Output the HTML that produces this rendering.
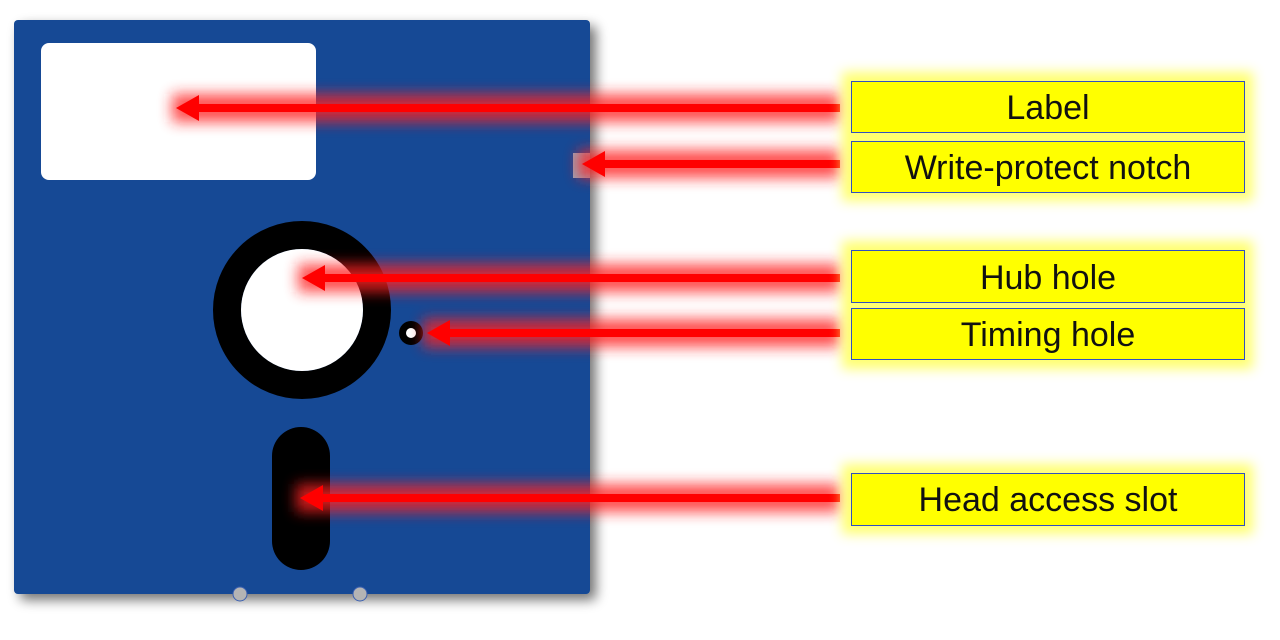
<!DOCTYPE html>
<html><head><meta charset="utf-8"><style>
html,body{margin:0;padding:0;background:#fff;width:1280px;height:640px;overflow:hidden}
text{font-family:"Liberation Sans",sans-serif;font-size:34px;fill:#111;font-weight:300}
</style></head><body>
<svg width="1280" height="640" viewBox="0 0 1280 640" xmlns="http://www.w3.org/2000/svg">
<defs>
<filter id="sh" x="-10%" y="-10%" width="130%" height="130%"><feGaussianBlur in="SourceAlpha" stdDeviation="6"/><feOffset dx="6" dy="6"/><feComponentTransfer><feFuncA type="linear" slope="0.55"/></feComponentTransfer><feMerge><feMergeNode/><feMergeNode in="SourceGraphic"/></feMerge></filter>
<filter id="rg" x="-20%" y="-300%" width="140%" height="700%"><feGaussianBlur stdDeviation="7"/></filter>
<filter id="yg" x="-10%" y="-50%" width="120%" height="200%"><feGaussianBlur stdDeviation="6"/></filter>
</defs>
<g filter="url(#sh)">
<rect x="14" y="20" width="576" height="574" rx="4" fill="#134a95"/>
</g>
<rect x="573" y="153" width="17" height="25" fill="#9aa3b5"/>
<circle cx="240" cy="594" r="7" fill="#b4b4b4" stroke="#3a5fb0" stroke-width="1"/>
<circle cx="360" cy="594" r="7" fill="#b4b4b4" stroke="#3a5fb0" stroke-width="1"/>
<rect x="41" y="43" width="275" height="137" rx="8" fill="#fff"/>
<circle cx="302" cy="310" r="75" fill="none" stroke="#000" stroke-width="28"/>
<circle cx="302" cy="310" r="61" fill="#fff"/>
<circle cx="411" cy="333" r="12" fill="#000"/>
<circle cx="411" cy="333" r="5" fill="#fff"/>
<rect x="272" y="427" width="58" height="143" rx="29" fill="#000"/>
<g>
<g filter="url(#rg)" opacity="0.8" fill="#ff2020">
<rect x="172" y="94" width="668" height="28"/>
<rect x="578" y="150" width="262" height="28"/>
<rect x="298" y="264" width="542" height="28"/>
<rect x="423" y="319" width="417" height="28"/>
<rect x="296" y="484" width="544" height="28"/>
</g>
<g fill="red">
<rect x="198" y="104" width="642" height="8"/><polygon points="176,108 199,95 199,121"/>
<rect x="604" y="160" width="236" height="8"/><polygon points="582,164 605,151 605,177"/>
<rect x="324" y="274" width="516" height="8"/><polygon points="302,278 325,265 325,291"/>
<rect x="449" y="329" width="391" height="8"/><polygon points="427,333 450,320 450,346"/>
<rect x="322" y="494" width="518" height="8"/><polygon points="300,498 323,485 323,511"/>
</g>
</g>
<g filter="url(#yg)" fill="#ffff60" opacity="0.9">
<rect x="842" y="72" width="411" height="129"/>
<rect x="842" y="241" width="411" height="128"/>
<rect x="842" y="464" width="411" height="70"/>
</g>
<g fill="#ffff00" stroke="#3050c0" stroke-width="1">
<rect x="851.5" y="81.5" width="393" height="51"/>
<rect x="851.5" y="141.5" width="393" height="51"/>
<rect x="851.5" y="250.5" width="393" height="52"/>
<rect x="851.5" y="308.5" width="393" height="51"/>
<rect x="851.5" y="473.5" width="393" height="52"/>
</g>
<g text-anchor="middle">
<text x="1048" y="119">Label</text>
<text x="1048" y="179">Write-protect notch</text>
<text x="1048" y="289">Hub hole</text>
<text x="1048" y="346">Timing hole</text>
<text x="1048" y="511">Head access slot</text>
</g>
</svg>
</body></html>
